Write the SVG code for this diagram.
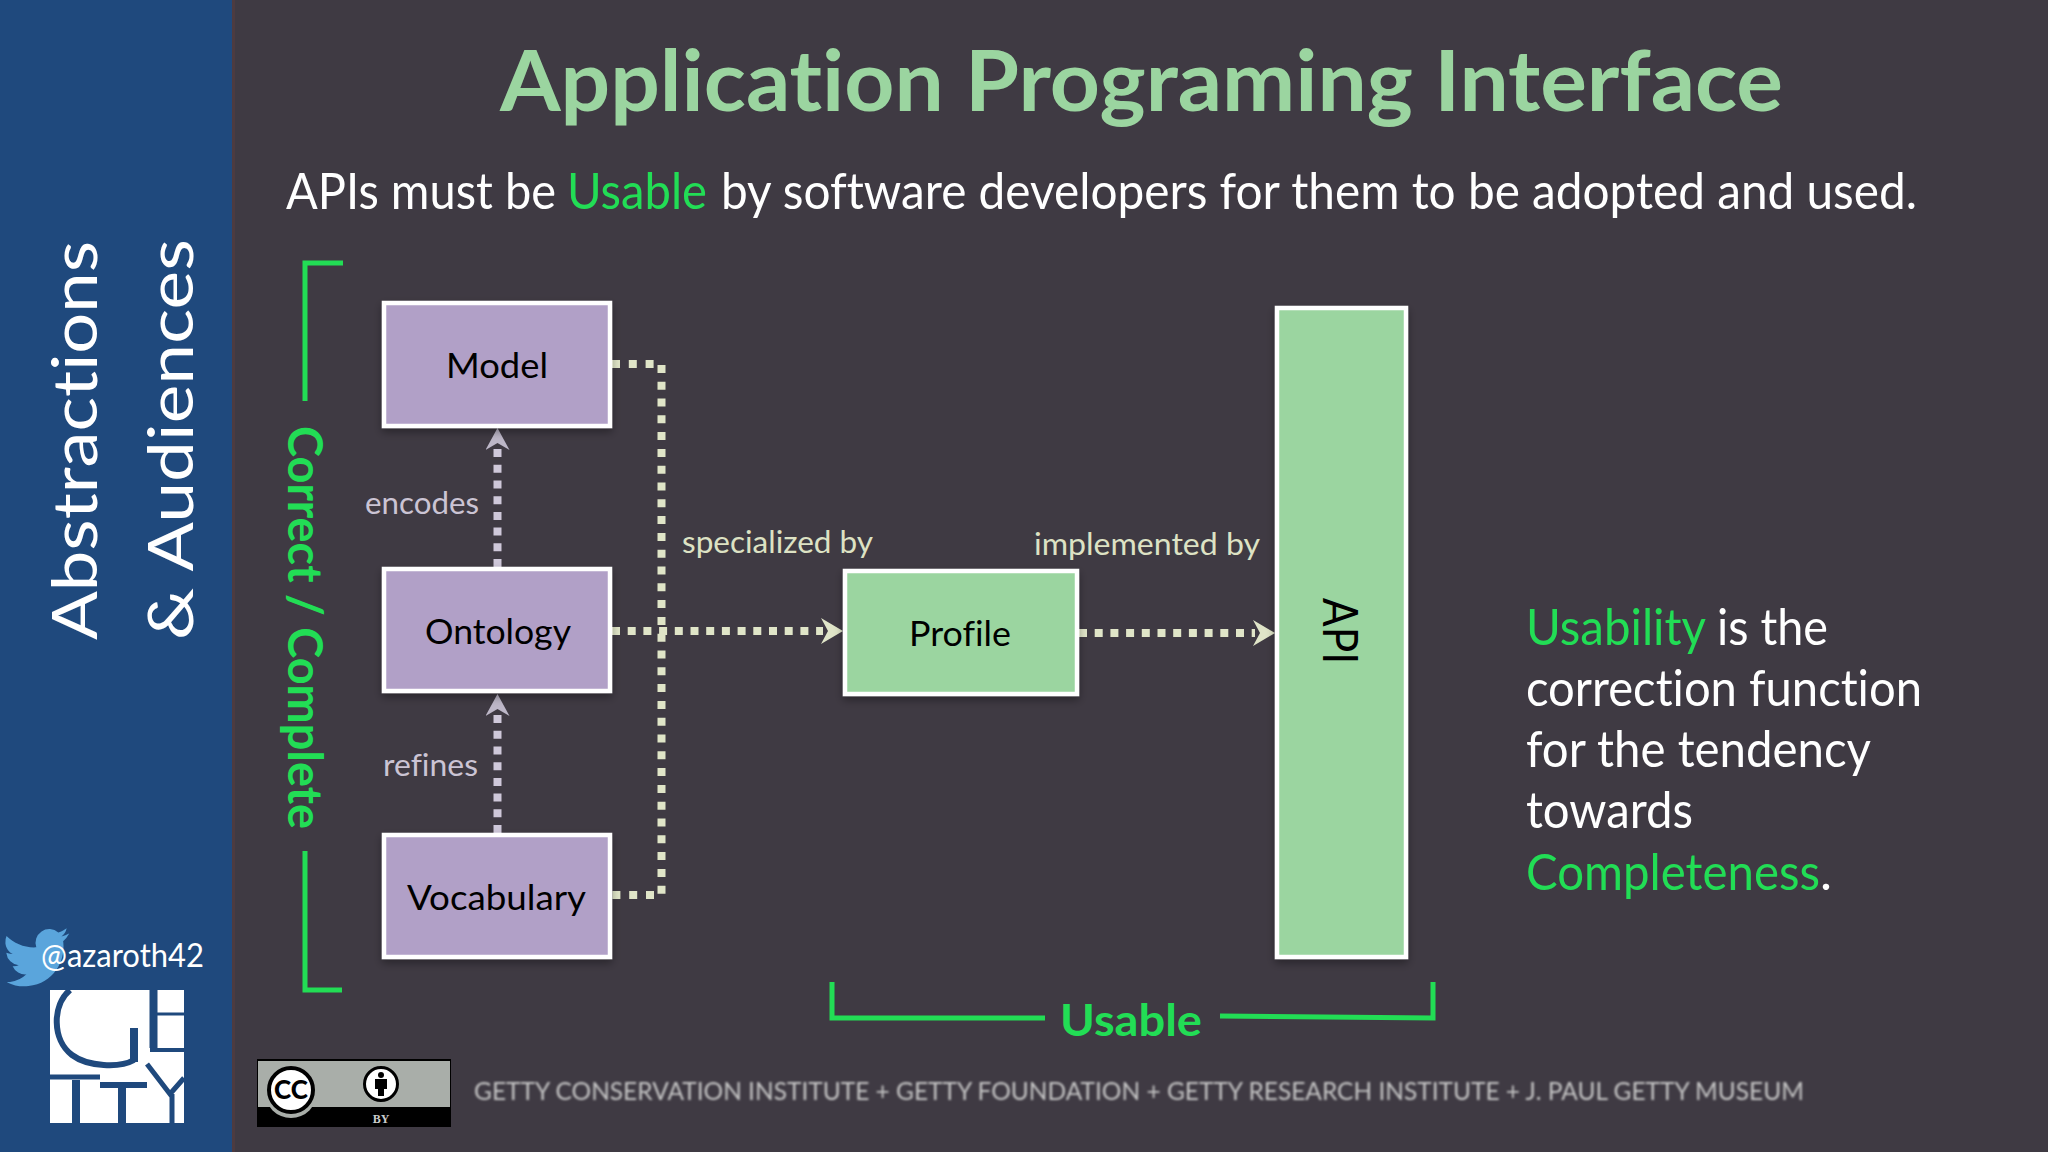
<svg xmlns="http://www.w3.org/2000/svg" width="2048" height="1152" viewBox="0 0 2048 1152">
<defs>
<filter id="shadow" x="-20%" y="-20%" width="140%" height="140%"><feDropShadow dx="0" dy="4" stdDeviation="4" flood-color="#000" flood-opacity="0.35"/></filter>
<filter id="soft" x="-5%" y="-50%" width="110%" height="200%"><feGaussianBlur stdDeviation="0.8"/></filter>
<marker id="headG" markerUnits="userSpaceOnUse" markerWidth="24" markerHeight="28" refX="2" refY="13" orient="auto"><path d="M0 0L22 13L0 26L7 13Z" fill="#e0e5c8"/></marker>
<marker id="headP" markerUnits="userSpaceOnUse" markerWidth="24" markerHeight="28" refX="2" refY="12" orient="auto"><path d="M0 0L22 12L0 24L7 12Z" fill="#bdb7c8"/></marker>
</defs>
<style>
text{font-family:Lato,"Liberation Sans",sans-serif;font-variant-ligatures:none}
.box{stroke:#fff;stroke-width:4.5;filter:url(#shadow)}
.pur{fill:#b1a0c7}
.grn{fill:#9bd5a0}
.lbl{font-size:35px;fill:#000}
.b{fill:none;stroke:#22dd55;stroke-width:5}
.hi{fill:#22dd55}
.body{font-size:50px;fill:#fff}
.small{font-size:31px}
.dg{fill:none;stroke:#e0e5c8;stroke-width:8}
.dp{fill:none;stroke:#cfc8da;stroke-width:8}
.cut{fill:none;stroke:#1f497d}
</style>
<rect width="2048" height="1152" fill="#3f3a43"/>
<rect id="sidebar" width="232" height="1152" fill="#1f497d"/>
<rect x="232" width="3" height="1152" fill="#4d3b40"/>
<g id="sidebar-text" fill="#fff">
<text transform="translate(97 640) rotate(-90)" font-size="62" textLength="399" lengthAdjust="spacingAndGlyphs">Abstractions</text>
<text transform="translate(193 640) rotate(-90)" font-size="62" textLength="401" lengthAdjust="spacingAndGlyphs">&amp; Audiences</text>
</g>
<path id="bird" transform="translate(4 924) rotate(-6 34 30) scale(2.8)" fill="#5aa5dc" d="M23.953 4.57a10 10 0 01-2.825.775 4.958 4.958 0 002.163-2.723c-.951.555-2.005.959-3.127 1.184a4.92 4.92 0 00-8.384 4.482C7.69 8.095 4.067 6.13 1.64 3.162a4.822 4.822 0 00-.666 2.475c0 1.71.87 3.213 2.188 4.096a4.904 4.904 0 01-2.228-.616v.06a4.923 4.923 0 003.946 4.827 4.996 4.996 0 01-2.212.085 4.936 4.936 0 004.604 3.417 9.867 9.867 0 01-6.102 2.105c-.39 0-.779-.023-1.17-.067a13.995 13.995 0 007.557 2.209c9.053 0 13.998-7.496 13.998-13.985 0-.21 0-.42-.015-.63A9.935 9.935 0 0024 4.59z"/>
<text id="handle" x="41" y="967" font-size="32" fill="#fff" textLength="163" lengthAdjust="spacingAndGlyphs">@azaroth42</text>
<g id="getty-logo">
<rect x="50" y="990" width="134" height="133" fill="#fff"/>
<path class="cut" stroke-width="6" d="M70 990C52 1005 52 1040 72 1055C88 1067 120 1068 134 1060"/>
<path class="cut" stroke-width="8" d="M134 1028V1062M153.500 990V1048"/>
<path class="cut" stroke-width="3" d="M157 1014H184"/>
<path class="cut" stroke-width="4" d="M150 1050H184"/>
<path class="cut" stroke-width="5" d="M50 1077H100"/>
<path class="cut" stroke-width="6" d="M100 1085H147"/>
<path class="cut" stroke-width="8" d="M76 1080V1123M122 1087V1123"/>
<path class="cut" stroke-width="5" d="M147 1064L170 1094L184 1078M172 1094V1123"/>
</g>
<text id="title" x="500" y="111" font-size="85" font-weight="700" fill="#9bd5a0" textLength="1283" lengthAdjust="spacingAndGlyphs">Application Programing Interface</text>
<text id="subtitle" class="body" y="209"><tspan x="286" textLength="270" lengthAdjust="spacingAndGlyphs">APIs must be</tspan><tspan x="567" class="hi" textLength="140" lengthAdjust="spacingAndGlyphs">Usable</tspan><tspan x="721" textLength="1196" lengthAdjust="spacingAndGlyphs">by software developers for them to be adopted and used.</tspan></text>
<g id="correct-bracket">
<path class="b" d="M343 263H305V401M305 851V990H342"/>
<text transform="translate(288 426) rotate(90)" font-size="47" font-weight="700" fill="#22dd55" textLength="403" lengthAdjust="spacingAndGlyphs">Correct / Complete</text>
</g>
<g id="usable-bracket">
<path class="b" d="M832 982V1018H1045M1220 1016L1433 1018V982"/>
<text x="1060" y="1036" font-size="44" font-weight="700" fill="#22dd55" textLength="142" lengthAdjust="spacingAndGlyphs">Usable</text>
</g>
<g id="connectors">
<path class="dg" stroke-dasharray="8 8.800" d="M612 364H661.500V895H612"/>
<path class="dg" stroke-dasharray="8 7.700" marker-end="url(#headG)" d="M612 631H823"/>
<path class="dg" stroke-dasharray="8 7.700" marker-end="url(#headG)" d="M1079 633H1255"/>
<path class="dp" stroke-dasharray="8 7.700" marker-end="url(#headP)" d="M497.500 567V448"/>
<path class="dp" stroke-dasharray="8 7.700" marker-end="url(#headP)" d="M497.500 833V714"/>
</g>
<g id="node-model"><rect class="box pur" x="384" y="303" width="226" height="123"/><text class="lbl" x="446" y="378" textLength="102" lengthAdjust="spacingAndGlyphs">Model</text></g>
<g id="node-ontology"><rect class="box pur" x="384" y="569" width="226" height="122"/><text class="lbl" x="425" y="644" textLength="146" lengthAdjust="spacingAndGlyphs">Ontology</text></g>
<g id="node-vocabulary"><rect class="box pur" x="384" y="835" width="226" height="122"/><text class="lbl" x="407" y="910" textLength="179" lengthAdjust="spacingAndGlyphs">Vocabulary</text></g>
<g id="node-profile"><rect class="box grn" x="845" y="571" width="232" height="123"/><text class="lbl" x="909" y="646" textLength="102" lengthAdjust="spacingAndGlyphs">Profile</text></g>
<g id="node-api"><rect class="box grn" x="1277" y="308" width="129" height="649"/><text transform="translate(1323 598) rotate(90)" style="font-size:49px" fill="#000" textLength="66" lengthAdjust="spacingAndGlyphs">API</text></g>
<g id="labels" class="small">
<text x="365" y="514" fill="#cbc4d4" textLength="114" lengthAdjust="spacingAndGlyphs">encodes</text>
<text x="383" y="776" fill="#cbc4d4" textLength="95" lengthAdjust="spacingAndGlyphs">refines</text>
<text x="682" y="553" fill="#dde2c4" textLength="191" lengthAdjust="spacingAndGlyphs">specialized by</text>
<text x="1034" y="555" fill="#dde2c4" textLength="226" lengthAdjust="spacingAndGlyphs">implemented by</text>
</g>
<g id="usability-note" class="body">
<text y="645"><tspan x="1526" class="hi" textLength="180" lengthAdjust="spacingAndGlyphs">Usability</tspan><tspan x="1717" textLength="111" lengthAdjust="spacingAndGlyphs">is the</tspan></text>
<text x="1526" y="706" textLength="396" lengthAdjust="spacingAndGlyphs">correction function</text>
<text x="1526" y="767" textLength="345" lengthAdjust="spacingAndGlyphs">for the tendency</text>
<text x="1526" y="828" textLength="167" lengthAdjust="spacingAndGlyphs">towards</text>
<text y="890"><tspan x="1526" class="hi" textLength="294" lengthAdjust="spacingAndGlyphs">Completeness</tspan><tspan x="1820" textLength="12" lengthAdjust="spacingAndGlyphs">.</tspan></text>
</g>
<g id="cc-badge">
<rect x="257" y="1059" width="194" height="68" fill="#000"/>
<rect x="258" y="1061" width="192" height="46" fill="#a9aea9"/>
<circle cx="291" cy="1092" r="26" fill="#a9aea9"/>
<circle cx="291" cy="1090" r="22" fill="#fff" stroke="#000" stroke-width="4"/>
<text x="291" y="1099" font-size="26" font-weight="900" fill="#000" text-anchor="middle">CC</text>
<circle cx="381" cy="1084" r="16.500" fill="#fff" stroke="#000" stroke-width="3"/>
<circle cx="381" cy="1075" r="3" fill="#000"/>
<path d="M375 1079H387V1089H384V1096H378V1089H375Z" fill="#000"/>
<text x="381" y="1123" font-size="12" font-weight="700" fill="#ccc" text-anchor="middle" style="font-family:'Liberation Serif',serif">BY</text>
</g>
<text id="footer" x="474" y="1100" font-size="25" fill="#c4c4c4" filter="url(#soft)" textLength="1330" lengthAdjust="spacingAndGlyphs">GETTY CONSERVATION INSTITUTE + GETTY FOUNDATION + GETTY RESEARCH INSTITUTE + J. PAUL GETTY MUSEUM</text>
</svg>
